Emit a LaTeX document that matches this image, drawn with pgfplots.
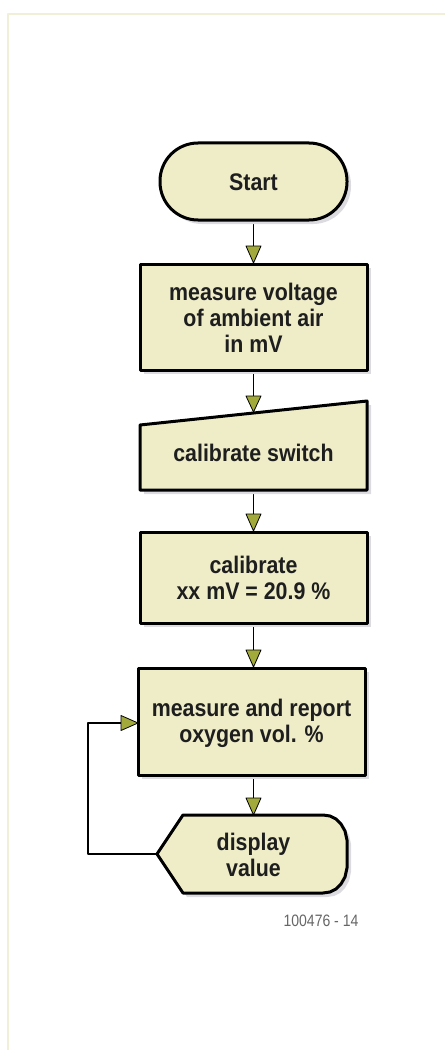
\documentclass[border=0pt]{standalone}
\usepackage{fontspec}
\usepackage{pgfplots}
\pgfplotsset{compat=1.18}
\newfontfamily\cond[FakeStretch=0.89]{Liberation Sans}
\newfontfamily\condl[FakeStretch=0.85]{Liberation Sans}
\definecolor{boxfill}{HTML}{EFEDC8}
\definecolor{tri}{HTML}{A3AA3C}
\definecolor{frame}{HTML}{F2EFD8}
\definecolor{shadow}{HTML}{DCDCE0}
\definecolor{txt}{HTML}{1E1E1E}
\begin{document}
\begin{tikzpicture}
\begin{axis}[
  width=446pt, height=1051pt, scale only axis,
  xmin=0, xmax=446, ymin=0, ymax=1051, y dir=reverse,
  hide axis, clip=false,
  every axis plot/.append style={line join=round},
]
% page extent
\addplot[draw=none, fill=none] coordinates {(0,0) (446,1051)};
% faint frame
\addplot[draw=frame, line width=2pt] coordinates {(8,1050) (8,14) (445,14)};

% connectors
\addplot[black, line width=1.4pt] coordinates {(253.5,220) (253.5,262)};
\addplot[black, line width=1.4pt] coordinates {(253.5,370) (253.5,410)};
\addplot[black, line width=1.4pt] coordinates {(253.5,490) (253.5,530)};
\addplot[black, line width=1.4pt] coordinates {(253.5,623) (253.5,666)};
\addplot[black, line width=1.4pt] coordinates {(253.5,775) (253.5,814)};
\addplot[black, line width=1.4pt] coordinates {(157,854) (88,854) (88,723) (136,723)};

% shadows
\addplot[draw=none, fill=shadow, rounded corners=38pt] coordinates {(164,147) (351,147) (351,224) (164,224)} --cycle;
\addplot[draw=none, fill=shadow] coordinates {(144,268) (371,268) (371,374) (144,374)} --cycle;
\addplot[draw=none, fill=shadow] coordinates {(144,429) (371,405) (371,494) (144,494)} --cycle;
\addplot[draw=none, fill=shadow] coordinates {(144,536) (371,536) (371,627) (144,627)} --cycle;
\addplot[draw=none, fill=shadow] coordinates {(142,672) (369,672) (369,779) (142,779)} --cycle;
\addplot[draw=none, fill=shadow] coordinates {(161,858) (187,819) (327,819) (334,820) (340,823) (345,828) (349,835) (351,844) (351,872) (349,881) (345,888) (340,893) (334,896) (327,897) (187,897)} --cycle;

% shapes
\addplot[draw=black, line width=3pt, fill=boxfill, rounded corners=38pt] coordinates {(160,143) (347,143) (347,220) (160,220)} --cycle;
\addplot[draw=black, line width=3pt, fill=boxfill] coordinates {(140,264) (367,264) (367,370) (140,370)} --cycle;
\addplot[draw=black, line width=3pt, fill=boxfill] coordinates {(140,425) (367,401) (367,490) (140,490)} --cycle;
\addplot[draw=black, line width=3pt, fill=boxfill] coordinates {(140,532) (367,532) (367,623) (140,623)} --cycle;
\addplot[draw=black, line width=3pt, fill=boxfill] coordinates {(138,668) (365,668) (365,775) (138,775)} --cycle;
\addplot[draw=black, line width=3pt, fill=boxfill] coordinates {(157,854) (183,815) (323,815) (330,816) (336,819) (341,824) (345,831) (347,840) (347,868) (345,877) (341,884) (336,889) (330,892) (323,893) (183,893)} --cycle;

% arrow heads
\addplot[draw=black, line width=0.8pt, fill=tri] coordinates {(246,246) (261,246) (253.5,263)} --cycle;
\addplot[draw=black, line width=0.8pt, fill=tri] coordinates {(246,396) (261,396) (253.5,412)} --cycle;
\addplot[draw=black, line width=0.8pt, fill=tri] coordinates {(246,514) (261,514) (253.5,531)} --cycle;
\addplot[draw=black, line width=0.8pt, fill=tri] coordinates {(246,650) (261,650) (253.5,667)} --cycle;
\addplot[draw=black, line width=0.8pt, fill=tri] coordinates {(246,798) (261,798) (253.5,815)} --cycle;
\addplot[draw=black, line width=0.8pt, fill=tri] coordinates {(121,715.5) (121,730.5) (138,723)} --cycle;

% texts
\tikzset{lbl/.style={font=\cond\bfseries\fontsize{24}{26}\selectfont, text=txt, align=center, inner sep=0pt}}
\node[lbl] at (axis cs:253.5,182) {Start};
\node[lbl] at (axis cs:253.5,318) {measure voltage\\of ambient air\\in mV};
\node[lbl] at (axis cs:253.5,453) {calibrate switch};
\node[lbl] at (axis cs:253.5,578) {calibrate\\xx mV = 20.9 \%};
\node[lbl] at (axis cs:251.5,723) {measure and report\\oxygen vol. \%};
\node[lbl] at (axis cs:253.5,855) {display\\value};
\node[font=\condl\fontsize{16.5}{18}\selectfont, text=black!60, inner sep=0pt] at (axis cs:321,921) {100476 - 14};
\end{axis}
\end{tikzpicture}
\end{document}
